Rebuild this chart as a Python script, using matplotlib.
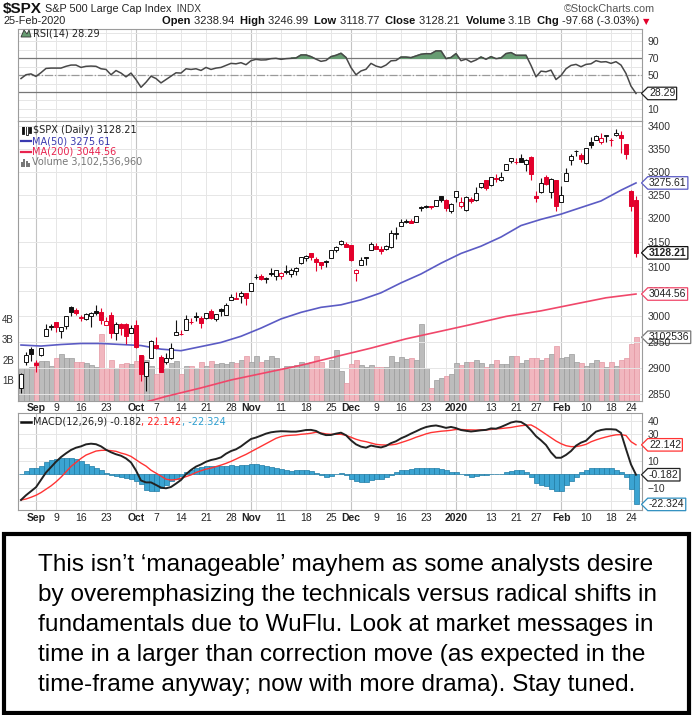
import numpy as np
import pandas as pd
import matplotlib
matplotlib.use('Agg')
import matplotlib.pyplot as plt
from matplotlib.path import Path
from matplotlib.patches import Rectangle, Polygon
from matplotlib.ticker import NullLocator

plt.rcParams['font.family'] = ['Liberation Sans', 'DejaVu Sans']

W, H = 693, 715

# trading days 28-Aug-2019 .. 25-Feb-2020
holidays = ['2019-09-02', '2019-11-28', '2019-12-25', '2020-01-01', '2020-01-20', '2020-02-17']
days = pd.bdate_range('2019-08-28', '2020-02-25')
days = days[~days.isin(pd.to_datetime(holidays))]

prev_close = 2869.16

opens = [2861.28, 2910.37, 2937.09,
         2909.01, 2924.67, 2960.60, 2980.33, 2988.43, 2971.01, 2981.41, 3018.21, 3012.21, 2996.41,
         2995.67, 3001.50, 3010.36, 3008.42, 2983.50, 3002.43, 2968.35, 2985.73, 2985.47, 2967.07,
         2983.69, 2924.78, 2885.38, 2918.56, 2944.23, 2920.40, 2911.10, 2918.55, 2963.07, 2965.81,
         2973.61, 2989.68, 3000.77, 2996.84, 2996.48, 3010.73, 2994.01, 3014.78, 3003.32, 3032.12,
         3035.39, 3039.74, 3046.90,
         3050.72, 3078.96, 3080.80, 3075.10, 3087.02, 3081.25, 3080.33, 3089.28, 3084.18, 3090.75,
         3107.92, 3117.91, 3127.45, 3114.66, 3108.49, 3111.41, 3117.44, 3134.85, 3145.49, 3147.18,
         3143.85, 3087.41, 3103.50, 3119.21, 3134.62, 3141.86, 3135.36, 3135.75, 3141.23, 3166.65,
         3183.63, 3195.40, 3195.21, 3192.32, 3223.33, 3226.05, 3225.45, 3227.20, 3247.23, 3240.09,
         3215.18,
         3244.67, 3226.36, 3217.55, 3241.86, 3238.59, 3266.03, 3281.81, 3271.13, 3285.35, 3282.27,
         3302.97, 3323.66, 3321.03, 3330.02, 3315.77, 3333.10, 3247.16, 3255.35, 3289.46, 3256.45,
         3282.33,
         3235.66, 3280.61, 3324.91, 3344.92, 3335.54, 3318.28, 3365.87, 3370.50, 3365.90, 3378.08,
         3369.04, 3380.39, 3380.45, 3360.50, 3257.61, 3238.94]
highs = [2890.03, 2930.50, 2940.43,
         2914.39, 2938.84, 2985.86, 2985.03, 2989.43, 2979.39, 3000.93, 3020.74, 3017.33, 3002.19,
         3006.21, 3007.83, 3021.99, 3016.37, 2999.15, 3007.98, 2989.82, 2987.28, 2987.31, 2983.85,
         2992.53, 2924.78, 2911.13, 2953.74, 2959.75, 2925.47, 2929.32, 2948.46, 2993.28, 2972.84,
         3003.28, 2997.54, 3008.29, 3000.00, 3007.33, 3014.57, 3004.78, 3016.07, 3027.39, 3044.08,
         3047.87, 3050.10, 3046.90,
         3066.95, 3085.20, 3083.95, 3078.34, 3097.77, 3093.09, 3088.33, 3102.61, 3098.06, 3098.20,
         3120.46, 3124.17, 3127.64, 3118.97, 3110.11, 3112.87, 3133.83, 3142.69, 3154.26, 3150.30,
         3144.31, 3094.97, 3119.38, 3119.45, 3150.60, 3148.87, 3142.12, 3143.98, 3176.28, 3182.68,
         3197.71, 3198.22, 3198.48, 3205.48, 3225.65, 3227.78, 3226.43, 3240.08, 3247.93, 3240.92,
         3231.72,
         3258.14, 3246.15, 3246.84, 3244.91, 3267.07, 3275.58, 3282.99, 3288.13, 3294.25, 3298.66,
         3317.11, 3329.88, 3329.79, 3337.77, 3326.88, 3333.18, 3258.85, 3285.78, 3293.47, 3285.91,
         3282.33,
         3268.44, 3306.92, 3337.58, 3347.96, 3341.42, 3352.26, 3375.63, 3381.47, 3385.09, 3380.69,
         3375.01, 3393.52, 3389.15, 3360.76, 3259.81, 3246.99]
lows = [2853.05, 2905.67, 2913.32,
        2891.85, 2921.86, 2960.60, 2972.51, 2969.39, 2957.01, 2975.31, 3000.92, 3002.90, 2990.67,
        2993.73, 2978.57, 3003.16, 2984.68, 2982.23, 2957.73, 2952.86, 2963.71, 2945.53, 2967.07,
        2938.70, 2874.93, 2855.94, 2918.56, 2935.68, 2892.66, 2907.41, 2917.12, 2963.07, 2962.94,
        2973.61, 2985.20, 2991.79, 2976.31, 2995.35, 2995.04, 2991.21, 3000.42, 3001.94, 3032.12,
        3034.81, 3025.96, 3023.19,
        3050.72, 3074.87, 3072.15, 3065.89, 3080.23, 3073.58, 3075.82, 3084.73, 3078.80, 3083.26,
        3104.60, 3112.06, 3113.47, 3091.41, 3094.55, 3099.26, 3117.44, 3131.00, 3143.41, 3139.34,
        3110.78, 3070.33, 3102.53, 3103.76, 3134.62, 3135.46, 3126.09, 3133.21, 3138.47, 3156.51,
        3183.63, 3191.03, 3191.14, 3192.32, 3216.03, 3222.30, 3220.51, 3227.20, 3234.37, 3216.57,
        3212.03,
        3235.53, 3222.34, 3214.64, 3232.43, 3236.67, 3263.67, 3260.86, 3268.43, 3277.19, 3280.69,
        3302.82, 3318.86, 3316.61, 3320.04, 3301.87, 3281.53, 3234.50, 3253.22, 3271.89, 3242.80,
        3214.68,
        3235.66, 3280.61, 3313.75, 3334.39, 3322.12, 3317.77, 3352.72, 3369.72, 3360.52, 3366.15,
        3355.61, 3378.83, 3341.02, 3328.45, 3214.65, 3118.77]
closes = [2887.94, 2924.58, 2926.46,
          2906.27, 2937.78, 2976.00, 2978.71, 2978.43, 2979.39, 3000.93, 3009.57, 3007.39, 2997.96,
          3005.70, 3006.73, 3006.79, 2992.07, 2991.78, 2966.60, 2984.87, 2977.62, 2961.79, 2976.74,
          2940.25, 2887.61, 2910.63, 2952.01, 2938.79, 2893.06, 2919.40, 2938.13, 2970.27, 2966.15,
          2995.68, 2989.69, 2997.95, 2986.20, 3006.72, 2995.99, 3004.52, 3010.29, 3022.55, 3039.42,
          3036.89, 3046.77, 3037.56,
          3066.91, 3078.27, 3074.62, 3076.78, 3085.18, 3093.08, 3087.01, 3091.84, 3094.04, 3096.63,
          3120.46, 3122.03, 3120.18, 3108.46, 3103.54, 3110.29, 3133.64, 3140.52, 3153.63, 3140.98,
          3113.87, 3093.20, 3112.76, 3117.43, 3145.91, 3135.96, 3132.52, 3141.63, 3168.57, 3168.80,
          3191.45, 3192.52, 3191.14, 3205.37, 3221.22, 3224.01, 3223.38, 3239.91, 3240.02, 3221.29,
          3230.78,
          3257.85, 3234.85, 3246.28, 3237.18, 3253.05, 3274.70, 3265.35, 3288.13, 3283.15, 3289.29,
          3316.81, 3329.62, 3320.79, 3321.75, 3325.54, 3295.47, 3243.63, 3276.24, 3273.40, 3283.66,
          3225.52,
          3248.92, 3297.59, 3334.69, 3345.78, 3327.71, 3352.09, 3357.75, 3379.45, 3373.94, 3380.16,
          3370.29, 3386.15, 3373.23, 3337.75, 3225.89, 3128.21]

# volume in billions
volume_b = [1.6, 1.6, 1.65, 1.9, 1.95, 1.95, 1.7, 2.1, 2.3, 2.1,
            2.1, 1.9, 1.9, 1.85, 1.75, 1.65, 3.25, 1.6, 2.0, 1.6,
            1.8, 1.85, 1.8, 1.95, 2.2, 2.0, 1.7, 1.3, 1.95, 1.6,
            1.85, 1.95, 1.3, 1.7, 1.7, 1.6, 1.9, 1.7, 1.95, 1.8,
            1.85, 1.8, 1.9, 1.85, 2.0, 2.2, 1.9, 2.2, 1.9, 2.0,
            2.2, 2.1, 1.6, 1.7, 1.7, 1.75, 1.9, 1.8, 1.9, 2.2,
            1.9, 1.6, 1.97, 2.5, 1.47, 0.86, 1.77, 1.97, 1.72, 1.65,
            1.72, 1.64, 1.65, 1.64, 2.2, 1.9, 2.15, 2.02, 2.1, 1.97,
            3.73, 1.61, 0.6, 1.02, 1.09, 1.19, 1.28, 1.84, 1.72, 1.87,
            1.87, 1.97, 1.84, 1.64, 1.77, 1.97, 1.77, 1.77, 2.16, 2.16,
            1.82, 2.0, 2.1, 2.1, 2.0, 2.1, 2.26, 2.65, 2.1, 2.13,
            2.26, 1.89, 1.84, 1.7, 1.84, 2.0, 1.9, 1.67, 1.9, 1.7,
            2.0, 2.1, 2.75, 3.10]

rsi = [46, 50.5, 51.5, 48.5, 53, 58, 58.4, 58.4, 58.4, 60.5,
       62, 62, 59.2, 60.5, 60.8, 60.5, 57.6, 56.8, 50.5, 55.5,
       52.5, 48, 52.5, 44.8, 35.6, 41.6, 48.8, 46, 40.8, 44.8,
       48.8, 52.8, 52.5, 57.6, 56.8, 57.6, 55.6, 59.2, 56.8, 58.4,
       59.2, 61.6, 64, 63.5, 64.8, 62.4, 67.2, 68.8, 68, 68.2,
       69.6, 70, 68.8, 69.6, 70, 70.4, 74, 74, 72, 69,
       66.4, 67.5, 72, 73.6, 76, 71, 59, 50.5, 55, 57,
       64, 60.8, 59.2, 62, 67, 67.5, 71.5, 71.5, 70.8, 72.8,
       74.8, 75.5, 75.4, 78.8, 78.8, 69.6, 71, 75.6, 67.2, 69,
       65.6, 68, 71.6, 68.8, 72, 69.6, 70.4, 75.6, 76.8, 73.6,
       73.6, 73.6, 61.6, 48, 54.8, 54, 56, 44.8, 49.6, 57.6,
       61.6, 62.8, 60, 62.8, 63.5, 67.2, 65.6, 66, 64, 66,
       62, 52, 37, 28.29]

macd = [-19.0, -15.5, -12.5, -9.5, -4.0, 1.5, 5.5, 9.5, 13.0, 15.8,
        18.3, 20.0, 21.0, 22.5, 23.0, 22.6, 21.0, 18.5, 16.6, 15.1,
        14.0, 12.0, 9.0, 3.0, -4.5, -5.9, -5.9, -7.8, -9.8, -10.3,
        -9.3, -6.8, -4.1, 0.2, 3.4, 5.9, 7.5, 9.5, 10.8, 11.6,
        12.8, 15.5, 17.5, 18.8, 21.0, 23.8, 26.5, 27.6, 29.0, 30.5,
        31.5, 32.0, 32.3, 32.2, 32.0, 32.0, 32.5, 33.2, 33.3, 32.5,
        30.5, 29.4, 29.5, 30.5, 31.2, 29.3, 25.5, 22.5, 20.8, 20.0,
        21.6, 20.8, 20.2, 21.3, 23.4, 24.8, 27.0, 28.6, 30.5, 32.2,
        34.0, 35.4, 36.2, 36.6, 35.8, 34.8, 35.5, 34.6, 33.2, 32.6,
        32.1, 32.5, 33.0, 33.3, 34.4, 34.2, 35.5, 37.1, 38.8, 39.6,
        39.2, 36.9, 33.0, 28.6, 25.5, 22.0, 16.5, 12.5, 12.5, 14.6,
        17.5, 21.5, 23.8, 25.2, 28.8, 32.0, 33.2, 33.8, 33.8, 33.5,
        31.0, 19.0, 7.5, -0.182]
signal = [-19.0, -18.3, -17.0, -15.5, -13.5, -11.0, -8.5, -5.5, -2.0, 2.0,
          6.0, 9.0, 12.0, 14.5, 16.0, 17.5, 18.0, 18.1, 17.8, 17.3,
          16.0, 15.0, 13.5, 11.0, 8.5, 6.3, 3.2, 1.0, -1.2, -3.5,
          -4.1, -3.8, -2.8, -1.6, -0.3, 1.5, 2.8, 4.0, 4.8, 5.9,
          7.0, 8.3, 9.8, 11.5, 13.3, 15.0, 17.0, 19.0, 21.0, 23.0,
          25.0, 27.0, 28.3, 29.0, 29.3, 29.5, 30.0, 30.3, 30.8, 31.5,
          31.0, 30.3, 30.0, 30.0, 30.0, 29.2, 27.8, 26.3, 25.2, 24.5,
          23.5, 22.5, 22.1, 22.0, 22.1, 22.6, 23.8, 25.0, 26.3, 27.8,
          29.0, 30.3, 31.3, 31.8, 32.3, 32.6, 33.0, 33.6, 33.6, 33.4,
          33.3, 33.2, 33.3, 33.3, 33.6, 34.0, 34.3, 34.7, 35.1, 35.8,
          36.4, 36.8, 37.0, 35.0, 32.5, 30.0, 27.5, 25.0, 23.0, 21.5,
          20.8, 20.8, 21.5, 22.5, 24.4, 25.8, 27.0, 28.0, 28.9, 29.6,
          29.8, 29.1, 24.5, 22.142]
hist = [0.5, 2.5, 4.5, 4.6, 6.0, 9.0, 10.5, 11.5, 12.6, 12.6,
        12.6, 11.5, 10.0, 8.0, 6.5, 5.0, 3.0, 1.2, -0.5, -1.0,
        -1.5, -2.5, -3.5, -5.0, -7.0, -11.5, -12.5, -12.5, -10.0, -7.5,
        -5.0, -3.0, -1.0, 1.5, 3.5, 4.5, 5.5, 6.0, 6.5, 6.5,
        6.5, 6.5, 6.8, 6.5, 7.0, 7.0, 7.5, 7.5, 7.0, 6.5,
        5.8, 4.8, 4.0, 3.2, 2.8, 3.0, 3.0, 3.5, 2.5, 1.0,
        -0.5, -1.5, -1.0, 0.0, 0.8, -0.5, -3.0, -4.5, -5.5, -5.8,
        -4.0, -3.5, -3.0, -1.5, -0.5, 1.5, 3.0, 3.5, 3.8, 4.5,
        5.0, 5.0, 5.0, 5.0, 4.0, 3.0, 1.5, 1.5, 0.0, -0.5,
        -1.5, -1.2, -0.5, -0.3, 0.3, 0.3, 0.5, 1.5, 2.5, 3.0,
        3.0, 1.5, -1.5, -6.0, -7.5, -8.5, -10.5, -12.0, -12.0, -8.0,
        -4.5, -1.5, 1.5, 3.5, 5.0, 5.2, 5.2, 5.0, 4.5, 3.5,
        1.5, -2.0, -10.5, -22.324]

# moving averages read at selected trading-day indices
ma50_idx = [0, 4, 8, 12, 16, 20, 24, 28, 32, 36, 40, 44, 48, 52, 56, 60, 64, 68, 72, 76,
            80, 84, 88, 92, 96, 100, 104, 108, 112, 116, 120, 123]
ma50 = [2944, 2942, 2945, 2947, 2947, 2945, 2943, 2936, 2933, 2941, 2949, 2961, 2977, 2995,
        3008, 3018, 3023, 3033, 3047, 3067, 3085, 3107, 3127, 3142, 3161, 3185, 3198, 3209,
        3223, 3237, 3260, 3275.61]
ma200_idx = [24, 29, 36, 42, 49, 56, 64, 70, 77, 84, 90, 97, 104, 110, 117, 123]
ma200 = [2833, 2846, 2862, 2877, 2891, 2905, 2924, 2938, 2956, 2971, 2984, 3000, 3011, 3023,
         3037, 3044.56]

price_ticks = [2850, 2900, 2950, 3000, 3050, 3100, 3150, 3200, 3250, 3300, 3350, 3400]
rsi_ticks = [10, 50, 70, 90]
macd_ticks = [-10, 10, 30, 40]
vol_ticks = [1, 2, 3, 4]

note_lines = ["This isn\u2019t \u2018manageable\u2019 mayhem as some analysts desire",
              "by overemphasizing the technicals versus radical shifts in",
              "fundamentals due to WuFlu. Look at market messages in",
              "time in a larger than correction move (as expected in the",
              "time-frame anyway; now with more drama). Stay tuned."]

RED = '#e3002b'
BLUE_MA = '#5b5bc4'
RED_MA = '#f0476a'
GRID = '#e6e6e6'
MGRID = '#c4c4c4'

n = len(closes)
x = np.arange(n)
pcs = [prev_close] + closes[:-1]
down = [c < p for c, p in zip(closes, pcs)]

fig = plt.figure(figsize=(W / 100, H / 100), dpi=100)
fig.patch.set_facecolor('white')
L, R = 18, 642


def add_ax(top, bottom, **kw):
    return fig.add_axes([L / W, 1 - bottom / H, (R - L) / W, (bottom - top) / H], **kw)


ax_rsi = add_ax(29, 121)
ax_vol = add_ax(121, 400.7)
ax = add_ax(121, 400.7, zorder=3)
ax.patch.set_visible(False)
ax_macd = add_ax(413, 510)

# date ticks: first trading day of each week / month
week_starts = [i for i in range(1, n) if days[i].isocalendar()[1] != days[i - 1].isocalendar()[1]]
month_starts = [i for i in range(1, n) if days[i].month != days[i - 1].month]
tick_pos, tick_lab, tick_bold = [], [], []
for t in sorted(set(week_starts) | set(month_starts)):
    if t in month_starts:
        tick_pos.append(t)
        tick_lab.append('2020' if days[t].month == 1 else days[t].strftime('%b'))
        tick_bold.append(True)
    elif not any(abs(t - m) < 3 for m in month_starts):
        tick_pos.append(t)
        tick_lab.append(str(days[t].day))
        tick_bold.append(False)


def vgrid(a):
    for w in week_starts:
        a.axvline(w, color=GRID, lw=0.7, zorder=0)
    for m in month_starts:
        a.axvline(m, color=MGRID, lw=0.8, zorder=0)


def style_panel(a, ylim, grid=True):
    a.set_xlim(-0.6, 124.2)
    a.set_ylim(*ylim)
    for s in a.spines.values():
        s.set_color('#9c9c9c')
        s.set_linewidth(0.8)
    if grid:
        vgrid(a)
    a.yaxis.tick_right()
    a.tick_params(axis='y', length=0, pad=4, labelsize=7.5, labelcolor='#333333')
    a.tick_params(axis='x', length=0)


def xlabels(a):
    a.set_xticks(tick_pos)
    a.set_xticklabels(tick_lab, fontsize=7.5, color='#222222')
    for lab, b in zip(a.get_xticklabels(), tick_bold):
        if b:
            lab.set_fontweight('bold')
    a.tick_params(axis='x', pad=2)


def tag_box(x0, y0, width, height, mutation_size):
    pad = mutation_size * 0.12
    x0, y0 = x0 - pad, y0 - pad
    x1, y1 = x0 + width + 2 * pad, y0 + height + 2 * pad
    tip = (y1 - y0) / 2
    return Path([(x0, y0), (x1, y0), (x1, y1), (x0, y1), (x0 - tip, (y0 + y1) / 2), (x0, y0)],
                closed=True)


def tag(a, yval, text, ec, bold=False):
    a.text(1 + 7 / (R - L), yval, text, transform=a.get_yaxis_transform(), ha='left', va='center',
           fontsize=7.5, fontweight='bold' if bold else 'normal', color='#222222', zorder=10,
           clip_on=False, bbox=dict(boxstyle=tag_box, fc='white', ec=ec, lw=0.9))


# ---- RSI panel
style_panel(ax_rsi, (-4.4, 104.8))
for v in range(0, 101, 10):
    ax_rsi.axhline(v, color=GRID, lw=0.7, zorder=0)
ax_rsi.axhline(70, color='#777777', lw=0.9, zorder=1)
ax_rsi.axhline(30, color='#777777', lw=0.9, zorder=1)
ax_rsi.axhline(50, color='#9a9a9a', lw=0.9, ls='-.', zorder=1)
r = np.array(rsi)
ax_rsi.fill_between(x, r, 70, where=r > 70, interpolate=True, color='#679c72', zorder=2)
ax_rsi.plot(x, r, color='#484848', lw=1.1, zorder=3)
ax_rsi.set_yticks(rsi_ticks)
ax_rsi.set_xticks([])
tag(ax_rsi, rsi[-1], '%.2f' % rsi[-1], '#222222')

# ---- volume (own axes, behind the price axes)
ax_vol.set_xlim(-0.6, 124.2)
ax_vol.set_ylim(0, 278.7 / 20.4)
vgrid(ax_vol)
ax_vol.bar(x, volume_b, width=1.0,
           color=['#f1b7bf' if d else '#bcbcbc' for d in down],
           edgecolor=['#e497a3' if d else '#9c9c9c' for d in down], lw=0.5, zorder=2)
for s in ax_vol.spines.values():
    s.set_visible(False)
ax_vol.set_xticks([])
ax_vol.set_yticks(vol_ticks)
ax_vol.set_yticklabels(['%dB' % v for v in vol_ticks])
ax_vol.tick_params(axis='y', length=0, pad=3, labelsize=7, labelcolor='#333333')
tag(ax_vol, volume_b[-1], '3102536', '#777777')

# ---- price panel
style_panel(ax, (2838, 3412), grid=False)
ax.set_yscale('log')
ax.set_ylim(2838, 3412)
ax.set_yticks(price_ticks)
ax.set_yticklabels([str(p) for p in price_ticks])
ax.yaxis.set_minor_locator(NullLocator())
for p in price_ticks:
    ax.axhline(p, color=GRID, lw=0.7, zorder=0)
ax.plot(ma50_idx, ma50, color=BLUE_MA, lw=1.2, zorder=3)
ax.plot(ma200_idx, ma200, color=RED_MA, lw=1.2, zorder=3)
for i in range(n):
    o, h, lo_, c = opens[i], highs[i], lows[i], closes[i]
    col = RED if down[i] else '#111111'
    ax.vlines(i, lo_, h, color=col, lw=0.8, zorder=4)
    b0, b1 = min(o, c), max(o, c)
    ax.bar(i, b1 - b0, bottom=b0, width=0.66, facecolor='white' if c >= o else col,
           edgecolor=col, lw=0.7, zorder=5)
xlabels(ax)
tag(ax, ma50[-1], '%.2f' % ma50[-1], BLUE_MA)
tag(ax, ma200[-1], '%.2f' % ma200[-1], RED_MA)
tag(ax, closes[-1], '%.2f' % closes[-1], '#111111', bold=True)

# ---- MACD panel
style_panel(ax_macd, (-26.5, 45.9))
for v in range(-20, 50, 10):
    ax_macd.axhline(v, color=GRID, lw=0.7, zorder=0)
ax_macd.bar(x, hist, width=1.0, color='#3ba4d2', edgecolor='#1f7ba5', lw=0.5, zorder=2)
ax_macd.plot(x, signal, color='#ff3333', lw=1.0, zorder=3)
ax_macd.plot(x, macd, color='#222222', lw=1.4, zorder=4)
ax_macd.set_yticks(macd_ticks)
xlabels(ax_macd)
tag(ax_macd, signal[-1], '%.3f' % signal[-1], '#ff3333')
tag(ax_macd, macd[-1], '%.3f' % macd[-1], '#222222')
tag(ax_macd, hist[-1], '%.3f' % hist[-1], '#2f8fc0')

# ---- header and legends
renderer = fig.canvas.get_renderer()


def seq(x_px, y_px, pieces):
    xx = x_px
    for txt, kw in pieces:
        t = fig.text(xx / W, 1 - y_px / H, txt, ha='left', va='center', **kw)
        xx += t.get_window_extent(renderer=renderer).width
    return xx


seq(3, 9, [('$SPX', dict(fontsize=11, fontweight='bold', color='#111111')),
           (' S&P 500 Large Cap Index', dict(fontsize=7.8, color='#222222')),
           ('  INDX', dict(fontsize=7.3, color='#333333'))])
fig.text(655 / W, 1 - 9 / H, '\u00a9StockCharts.com', ha='right', va='center', fontsize=7.8,
         color='#555555')
fig.text(3 / W, 1 - 21.5 / H, '25-Feb-2020', ha='left', va='center', fontsize=7.8,
         color='#222222')
bold = dict(fontsize=8, fontweight='bold', color='#111111')
reg = dict(fontsize=8, color='#222222')
seq(162, 21.5, [('Open ', bold), ('3238.94  ', reg), ('High ', bold), ('3246.99  ', reg),
                ('Low ', bold), ('3118.77  ', reg), ('Close ', bold), ('3128.21  ', reg),
                ('Volume ', bold), ('3.1B  ', reg), ('Chg ', bold), ('-97.68 (-3.03%) ', reg),
                ('\u25bc', dict(fontsize=6, color=RED, family=['DejaVu Sans']))])

leg = dict(fontsize=7, family=['DejaVu Sans'])
fig.add_artist(Polygon([(21 / W, 1 - 37 / H), (24 / W, 1 - 30 / H), (27 / W, 1 - 34 / H),
                        (29 / W, 1 - 30 / H), (31 / W, 1 - 37 / H)], closed=True,
                       transform=fig.transFigure, fc='#679c72', ec='#333333', lw=0.6))
fig.text(33 / W, 1 - 33.5 / H, 'RSI(14) 28.29', ha='left', va='center', color='#222222', **leg)
for xx, hh, fill in [(22, 7, '#111111'), (26, 9, 'white'), (29, 6, '#111111')]:
    fig.add_artist(Rectangle((xx / W, 1 - (130 + hh / 2) / H), 2.4 / W, hh / H,
                             transform=fig.transFigure, fc=fill, ec='#111111', lw=0.6))
fig.text(33 / W, 1 - 130 / H, '$SPX (Daily) 3128.21', ha='left', va='center', color='#222222',
         **leg)
fig.add_artist(plt.Line2D([21 / W, 31 / W], [1 - 141 / H] * 2, color='#3a3ab0', lw=1.6,
                          transform=fig.transFigure))
fig.text(32 / W, 1 - 141 / H, 'MA(50) 3275.61', ha='left', va='center', color='#3a3ab0', **leg)
fig.add_artist(plt.Line2D([21 / W, 31 / W], [1 - 152 / H] * 2, color='#e8234e', lw=1.6,
                          transform=fig.transFigure))
fig.text(32 / W, 1 - 152 / H, 'MA(200) 3044.56', ha='left', va='center', color='#e8234e', **leg)
for k, hh in enumerate([5, 8, 6, 4]):
    fig.add_artist(Rectangle(((21 + 2.3 * k) / W, 1 - 166.5 / H), 2.0 / W, hh / H,
                             transform=fig.transFigure, fc='#777777', ec='none'))
fig.text(32 / W, 1 - 162.5 / H, 'Volume 3,102,536,960', ha='left', va='center', color='#777777',
         **leg)
fig.add_artist(plt.Line2D([21 / W, 31 / W], [1 - 421.5 / H] * 2, color='#111111', lw=1.8,
                          transform=fig.transFigure))
seq(33, 421.5, [('MACD(12,26,9) -0.182', dict(color='#222222', **leg)),
                (', 22.142', dict(color='#ff2222', **leg)),
                (', -22.324', dict(color='#2f9fd0', **leg))])

# ---- comment box
fig.add_artist(Rectangle((4 / W, 1 - 712.5 / H), 685 / W, 178.5 / H, transform=fig.transFigure,
                         fc='white', ec='black', lw=3))
fs = 17.5
probe = fig.text(0, 0, note_lines[0], fontsize=fs)
wpx = probe.get_window_extent(renderer=renderer).width
probe.remove()
fs = fs * 613 / wpx
for k, line in enumerate(note_lines):
    fig.text(38.5 / W, 1 - (571.5 + 30 * k) / H, line, ha='left', va='baseline', fontsize=fs,
             color='black')

fig.savefig('out.png', dpi=100)
